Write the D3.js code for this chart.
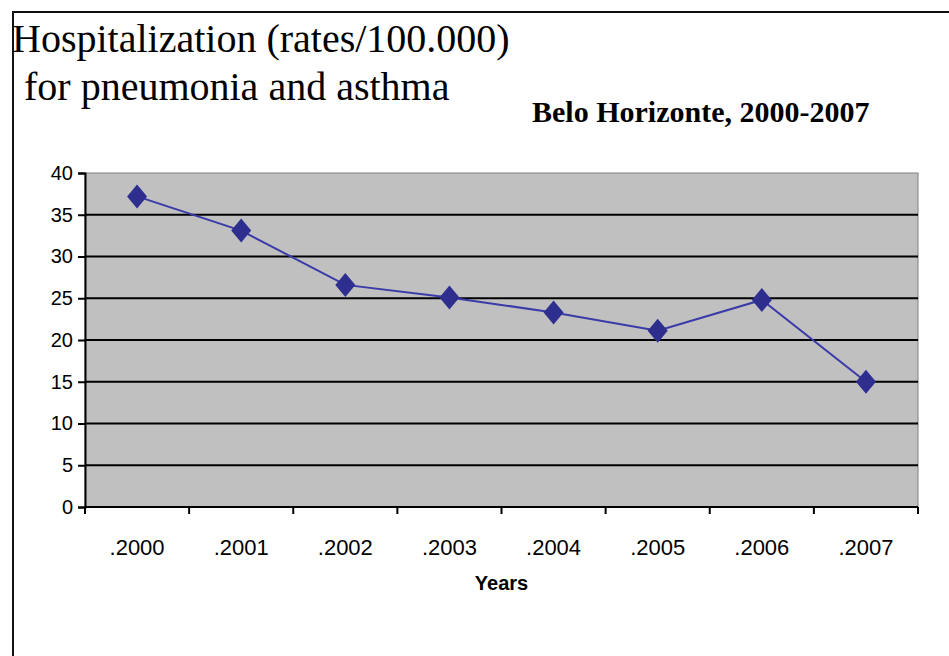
<!DOCTYPE html>
<html lang="en">
<head>
    <meta charset="UTF-8">
    <title>Hospitalization rates</title>
    <script src="https://d3js.org/d3.v7.min.js"></script>
    <style>
        body { margin: 0; background: #fff; }
        .serif { font-family: "Liberation Serif", "Times New Roman", serif; fill: #000; }
        .tick text { font-family: "Liberation Sans", Arial, sans-serif; font-size: 20px; fill: #000; }
    </style>
</head>
<body>
<script>
    var years = ['.2000', '.2001', '.2002', '.2003', '.2004', '.2005', '.2006', '.2007'];
    var rates = [37.2, 33.1, 26.6, 25.1, 23.3, 21.1, 24.8, 15.0];
    var yTicks = [0, 5, 10, 15, 20, 25, 30, 35, 40];

    const width = 949;
    const height = 656;
    const plot = {left: 85, right: 918, top: 173, bottom: 507};

    var svg = d3.select('body').append('svg')
        .attr('width', width)
        .attr('height', height);

    // outer frame (top and left edges only visible)
    svg.append('path')
        .attr('d', 'M13,656 L13,12 L949,12')
        .attr('fill', 'none')
        .attr('stroke', '#111')
        .attr('stroke-width', 2);

    // titles
    svg.append('text').attr('class', 'serif')
        .attr('x', 12).attr('y', 52)
        .style('font-size', '40px')
        .text('Hospitalization (rates/100.000)');
    svg.append('text').attr('class', 'serif')
        .attr('x', 24).attr('y', 100)
        .style('font-size', '40px')
        .text('for pneumonia and asthma');
    svg.append('text').attr('class', 'serif')
        .attr('x', 532).attr('y', 122)
        .style('font-size', '30px')
        .style('font-weight', 'bold')
        .text('Belo Horizonte, 2000-2007');

    var x = d3.scaleBand()
        .domain(years)
        .range([plot.left, plot.right]);
    var y = d3.scaleLinear()
        .domain([0, 40])
        .range([plot.bottom, plot.top]);

    // plot background
    svg.append('rect')
        .attr('x', plot.left)
        .attr('y', plot.top)
        .attr('width', plot.right - plot.left)
        .attr('height', plot.bottom - plot.top)
        .attr('fill', '#c0c0c0')
        .attr('stroke', '#808080')
        .attr('stroke-width', 1);

    // gridlines
    svg.append('g')
        .selectAll('line')
        .data(yTicks.filter(d => d > 0 && d < 40))
        .enter()
        .append('line')
        .attr('x1', plot.left)
        .attr('x2', plot.right)
        .attr('y1', d => y(d))
        .attr('y2', d => y(d))
        .attr('stroke', '#000')
        .attr('stroke-width', 2);

    // Left axis
    var yAxis = d3.axisLeft(y)
        .tickValues(yTicks)
        .tickSize(7)
        .tickPadding(5);
    svg.append('g')
        .attr('transform', 'translate(' + plot.left + ',0)')
        .call(yAxis)
        .call(g => g.select('.domain').attr('stroke', '#000').attr('stroke-width', 2))
        .call(g => g.selectAll('.tick line').attr('stroke', '#000').attr('stroke-width', 2));

    // Bottom axis: ticks at band edges
    var xEdges = years.map(d => x(d)).concat([plot.right]);
    svg.append('g')
        .attr('transform', 'translate(0,' + plot.bottom + ')')
        .call(g => g.append('line')
            .attr('x1', plot.left).attr('x2', plot.right)
            .attr('stroke', '#000').attr('stroke-width', 2))
        .selectAll('line.tk')
        .data(xEdges)
        .enter()
        .append('line')
        .attr('class', 'tk')
        .attr('x1', d => d).attr('x2', d => d)
        .attr('y1', 0).attr('y2', 7)
        .attr('stroke', '#000').attr('stroke-width', 2);

    svg.append('g')
        .selectAll('text')
        .data(years)
        .enter()
        .append('text')
        .attr('x', d => x(d) + x.bandwidth() / 2)
        .attr('y', 555)
        .attr('text-anchor', 'middle')
        .style('font-family', '"Liberation Sans", Arial, sans-serif')
        .style('font-size', '22px')
        .text(d => d);

    svg.append('text')
        .attr('x', (plot.left + plot.right) / 2)
        .attr('y', 590)
        .attr('text-anchor', 'middle')
        .style('font-family', '"Liberation Sans", Arial, sans-serif')
        .style('font-size', '20px')
        .style('font-weight', 'bold')
        .text('Years');

    // line
    var line = d3.line()
        .x((d, i) => x(years[i]) + x.bandwidth() / 2)
        .y(d => y(d));
    svg.append('path')
        .datum(rates)
        .attr('d', line)
        .attr('fill', 'none')
        .attr('stroke', '#3a3aa8')
        .attr('stroke-width', 2);

    // diamond markers
    svg.append('g')
        .selectAll('path')
        .data(rates)
        .enter()
        .append('path')
        .attr('transform', (d, i) => 'translate(' + (x(years[i]) + x.bandwidth() / 2) + ',' + y(d) + ')')
        .attr('d', 'M0,-12 L10,0 L0,12 L-10,0 Z')
        .attr('fill', '#2e2e8f');
</script>
</body>
</html>
